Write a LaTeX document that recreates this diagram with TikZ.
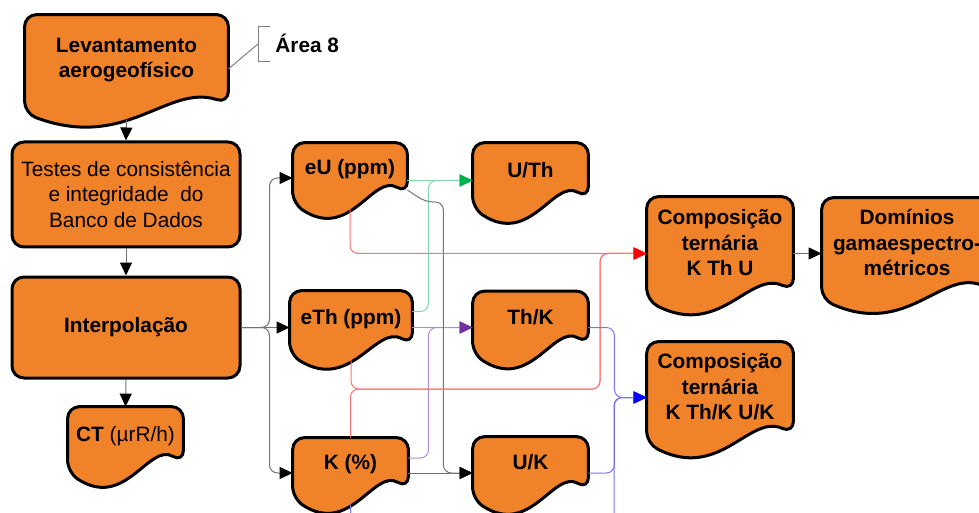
\documentclass[tikz,border=0pt]{standalone}
\usepackage{fontspec}
\setmainfont{Liberation Sans}
\usetikzlibrary{arrows.meta, calc, backgrounds}
\definecolor{boxorange}{HTML}{F0822A}
\definecolor{linkgreen}{HTML}{00B050}
\definecolor{linkpurple}{HTML}{7030A0}
\newcommand{\boxfont}{\fontsize{10.4}{12.8}\selectfont}

\begin{document}
\begin{tikzpicture}[x=0.5pt, y=-0.5pt,
  rbox/.style={draw, line width=1.5pt, fill=boxorange, rounded corners=6pt,
    align=center, minimum width=114pt, inner sep=0pt},
  docbox/.style={inner sep=0pt, align=center, font=\boxfont\bfseries, text depth=11pt},
  docline/.style={draw, line width=1.5pt, fill=boxorange, rounded corners=6pt},
  link/.style={line width=0.5pt, rounded corners=4pt},
  arr/.style={link, draw=black!55, -{Triangle[length=6.5pt, width=6pt, color=black]}},
  redarr/.style={link, draw=red!55, -{Triangle[length=6.5pt, width=6pt, color=red]}},
  greenarr/.style={link, draw=linkgreen!50, -{Triangle[length=6.5pt, width=6pt, color=linkgreen]}},
  purplearr/.style={link, draw=linkpurple!55, -{Triangle[length=6.5pt, width=6pt, color=linkpurple]}},
  bluearr/.style={link, draw=blue!55, -{Triangle[length=6.5pt, width=6pt, color=blue]}},
  note/.style={draw=black!50, line width=0.5pt}
]
\useasboundingbox (0,0) rectangle (979,513);

% --- left column ---
\node[docbox, minimum width=101.5pt, minimum height=54pt, text depth=11pt] (lev) at (126.5,69) {Levantamento\\aerogeofísico};
\node[anchor=base west, inner sep=0pt, font=\boxfont\bfseries] (area) at (275,53) {Área 8};
\node[rbox, minimum height=52.5pt, font=\boxfont] (test) at (126,194.5) {Testes de consistência\\e integridade~ do\\Banco de Dados};
\node[rbox, minimum height=50.5pt, font=\boxfont\bfseries] (interp) at (126,327.5) {Interpolação};
\node[docbox, minimum width=57.5pt, minimum height=37.5pt, font=\boxfont] (ct) at (125.5,444.5) {\textbf{CT} (µrR/h)};

% --- channels ---
\node[docbox, minimum width=57pt, minimum height=35pt] (eU) at (350,178) {eU (ppm)};
\node[docbox, minimum width=61pt, minimum height=36.5pt] (eTh) at (351,327.5) {eTh (ppm)};
\node[docbox, minimum width=57.5pt, minimum height=35pt] (K) at (350.5,473) {K (\%)};

% --- ratios ---
\node[docbox, minimum width=57.5pt, minimum height=37.5pt] (UTh) at (530.5,180.5) {U/Th};
\node[docbox, minimum width=57.5pt, minimum height=36pt] (ThK) at (530.5,327.5) {Th/K};
\node[docbox, minimum width=57.5pt, minimum height=36pt] (UK) at (530.5,473) {U/K};

% --- ternary compositions ---
\node[docbox, minimum width=73pt, minimum height=56.5pt] (ktu) at (720,253.5) {Composição\\ternária\\K Th U};
\node[docbox, minimum width=73pt, minimum height=55.5pt] (kthuk) at (720,397.5) {Composição\\ternária\\K Th/K U/K};
\node[docbox, minimum width=85pt, minimum height=55.5pt] (dom) at (907,253.5) {Domínios\\gamaespectro-\\métricos};

% document outlines behind the texts
\begin{pgfonlayer}{background}
\foreach \b in {lev,ct,eU,eTh,K,UTh,ThK,UK,ktu,kthuk,dom}
  \draw[docline] let \p1=(\b.south west), \p2=(\b.north east) in
    (\x1,\y2) -- (\x2,\y2) -- (\x2,\y1+10pt)
    .. controls (0.7*\x2+0.3*\x1,\y1+20pt) and (0.5*\x1+0.5*\x2,\y1-14pt) .. (\x1,\y1+5pt) -- cycle;
\end{pgfonlayer}

% annotation
\draw[note] (lev.east) -- ([xshift=-8.5pt]area.west);
\draw[note] ([xshift=-2.5pt,yshift=8.75pt]area.west) -| ([xshift=-8.5pt,yshift=-8.75pt]area.west)
  -- ([xshift=-2.5pt,yshift=-8.75pt]area.west);

% left column links
\draw[arr] ([yshift=2pt]lev.south) -- (test.north);
\draw[arr] (test.south) -- (interp.north);
\draw[arr] (interp.south) -- (ct.north);

% fan-out from interpolation
\draw[arr] (interp.east) -- ++(28,0) |- (eU.west);
\draw[arr] (interp.east) -- (eTh.west);
\draw[arr] (interp.east) -- ++(28,0) |- (K.west);

% ratios
\draw[greenarr] (UTh.west -| eU.east) -- (UTh.west);
\draw[greenarr] ([yshift=8pt]eTh.east) -- ++(16,0) |- (UTh.west);
\draw[purplearr] (eTh.east) -- (ThK.west);
\draw[purplearr] ([yshift=7.5pt]K.east) -- ++(20,0) |- (ThK.west);
\draw[arr] ([yshift=-6pt]eU.east) -- ++(18,12) -- ++(18,0) |- (UK.west);
\draw[arr] (K.east) -- (UK.west);

% K Th U
\coordinate (redbus) at (600,389);
\draw[redarr] ([yshift=2pt]eU.south) |- (ktu.west);
\draw[redarr] ([yshift=2pt]eTh.south) |- (redbus) |- (ktu.west);
\draw[redarr] (K.north) |- (redbus) |- (ktu.west);

% K Th/K U/K
\coordinate (bluebus) at (614,540);
\draw[bluearr] (ThK.east) -- ++(26,0) |- (kthuk.west);
\draw[bluearr] (UK.east) -- ++(26,0) |- (kthuk.west);
\draw[bluearr] ([yshift=2pt]K.south) |- (bluebus) |- (kthuk.west);

\draw[arr] (ktu.east) -- (dom.west);
\end{tikzpicture}
\end{document}
